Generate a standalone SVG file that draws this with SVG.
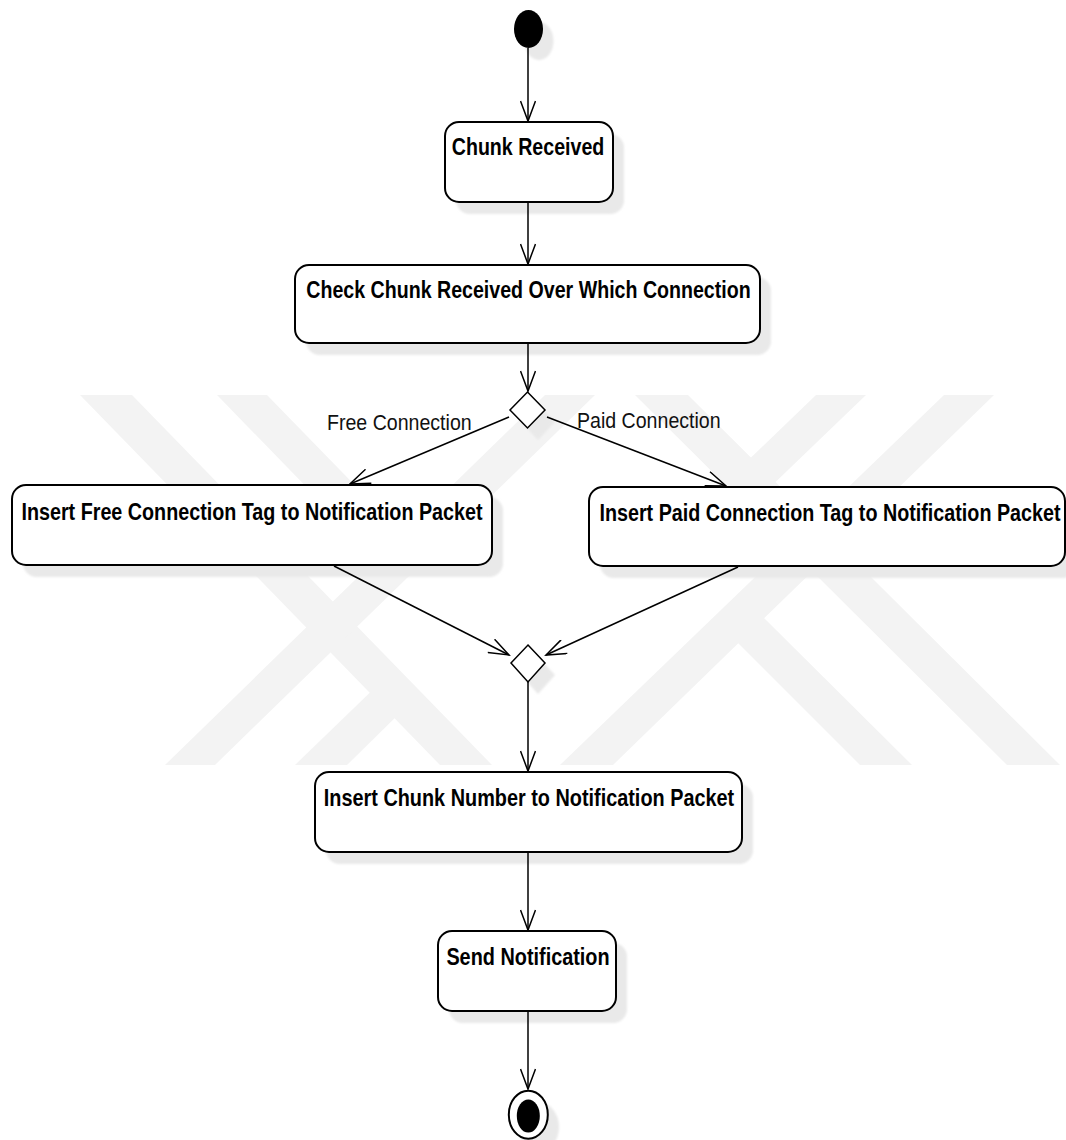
<svg xmlns="http://www.w3.org/2000/svg" width="1066" height="1140" viewBox="0 0 1066 1140">
  <defs>
    <style>
      .act { font-family: "Liberation Sans", Arial, sans-serif; font-weight: bold; font-size: 23.5px; text-anchor: middle; fill: #000; }
      .lbl { font-family: "Liberation Sans", Arial, sans-serif; font-size: 22px; fill: #111; }
      .box { fill: #fff; stroke: #000; stroke-width: 2; }
      .shadow { fill: #e9e9e9; filter: url(#soft); }
      .wm { fill: #f3f3f3; }
      .edge { fill: none; stroke: #000; stroke-width: 1.5; marker-end: url(#arrow); }
    </style>
    <filter id="soft" x="-10%" y="-10%" width="120%" height="120%">
      <feGaussianBlur stdDeviation="1"/>
    </filter>
    <marker id="arrow" markerUnits="userSpaceOnUse" viewBox="0 0 24 16" markerWidth="24" markerHeight="16" refX="21" refY="8" orient="auto">
      <path d="M1,0.5 L21,8 L1,15.5" fill="none" stroke="#000" stroke-width="1.5"/>
    </marker>
  </defs>

  <rect width="1066" height="1140" fill="#fff"/>

  <!-- background emblem: diagonal bands -->
  <g id="emblem">
    <polygon class="wm" points="80,395 132,395 492,765 440,765"/>
    <polygon class="wm" points="545,395 595,395 215,765 165,765"/>
    <polygon class="wm" points="217,395 267,395 414,546 389,572"/>
    <polygon class="wm" points="295,765 347,765 408,705 383,680"/>
    <polygon class="wm" points="944,395 994,395 613,765 560,765"/>
    <polygon class="wm" points="635,395 688,395 1060,765 1007,765"/>
    <polygon class="wm" points="816,395 866,395 762,495 737,471"/>
    <polygon class="wm" points="860,765 912,765 751,605 725,630"/>
  </g>

  <!-- drop shadows -->
  <g id="shadows">
    <ellipse class="shadow" cx="539" cy="41" rx="14.5" ry="19"/>
    <rect class="shadow" x="456" y="134" width="168" height="80" rx="14"/>
    <rect class="shadow" x="306" y="277" width="465" height="78" rx="14"/>
    <polygon class="shadow" points="538,404 555,422 538,440 521,422"/>
    <rect class="shadow" x="23" y="497" width="480" height="80" rx="14"/>
    <rect class="shadow" x="600" y="499" width="476" height="79" rx="14"/>
    <polygon class="shadow" points="538,657 555,675 538,694 521,675"/>
    <rect class="shadow" x="326" y="784" width="427" height="80" rx="14"/>
    <rect class="shadow" x="449" y="943" width="178" height="80" rx="14"/>
    <ellipse class="shadow" cx="539" cy="1127" rx="20" ry="24.5"/>
  </g>

  <!-- connectors -->
  <g id="connectors">
    <line class="edge" x1="528" y1="48" x2="528" y2="121"/>
    <line class="edge" x1="528" y1="202" x2="528" y2="264"/>
    <line class="edge" x1="528" y1="343" x2="528" y2="391"/>
    <line class="edge" x1="509" y1="417" x2="350" y2="484"/>
    <line class="edge" x1="547" y1="417" x2="726" y2="486"/>
    <line class="edge" x1="334" y1="566" x2="509" y2="655"/>
    <line class="edge" x1="738" y1="567" x2="546" y2="655"/>
    <line class="edge" x1="528" y1="682" x2="528" y2="771"/>
    <line class="edge" x1="528" y1="852" x2="528" y2="930"/>
    <line class="edge" x1="528" y1="1011" x2="528" y2="1089"/>
    <text class="lbl" transform="translate(327,430) scale(0.89,1)">Free Connection</text>
    <text class="lbl" transform="translate(577,428) scale(0.89,1)">Paid Connection</text>
  </g>

  <!-- nodes -->
  <g id="start">
    <ellipse cx="528.5" cy="29" rx="14.5" ry="19" fill="#000"/>
  </g>

  <g id="chunk-received">
    <rect class="box" x="445" y="122" width="168" height="80" rx="14"/>
    <text class="act" transform="translate(528,155) scale(0.835,1)">Chunk Received</text>
  </g>

  <g id="check-connection">
    <rect class="box" x="295" y="265" width="465" height="78" rx="14"/>
    <text class="act" transform="translate(528.5,298) scale(0.835,1)">Check Chunk Received Over Which Connection</text>
  </g>

  <g id="decision">
    <polygon points="527.5,392 545,410 527.5,428 510,410" fill="#fff" stroke="#000" stroke-width="1.5"/>
  </g>

  <g id="insert-free-tag">
    <rect class="box" x="12" y="485" width="480" height="80" rx="14"/>
    <text class="act" transform="translate(252,520) scale(0.84,1)">Insert Free Connection Tag to Notification Packet</text>
  </g>

  <g id="insert-paid-tag">
    <rect class="box" x="589" y="487" width="476" height="79" rx="14"/>
    <text class="act" transform="translate(830,521) scale(0.84,1)">Insert Paid Connection Tag to Notification Packet</text>
  </g>

  <g id="merge">
    <polygon points="528,645 545,663 528,682 511,663" fill="#fff" stroke="#000" stroke-width="1.5"/>
  </g>

  <g id="insert-chunk-number">
    <rect class="box" x="315" y="772" width="427" height="80" rx="14"/>
    <text class="act" transform="translate(529,806) scale(0.845,1)">Insert Chunk Number to Notification Packet</text>
  </g>

  <g id="send-notification">
    <rect class="box" x="438" y="931" width="178" height="80" rx="14"/>
    <text class="act" transform="translate(528,965) scale(0.845,1)">Send Notification</text>
  </g>

  <g id="end">
    <ellipse cx="528.3" cy="1114.7" rx="19.5" ry="24" fill="#fff" stroke="#000" stroke-width="2"/>
    <ellipse cx="528.3" cy="1116" rx="11.5" ry="16.5" fill="#000"/>
  </g>
</svg>
